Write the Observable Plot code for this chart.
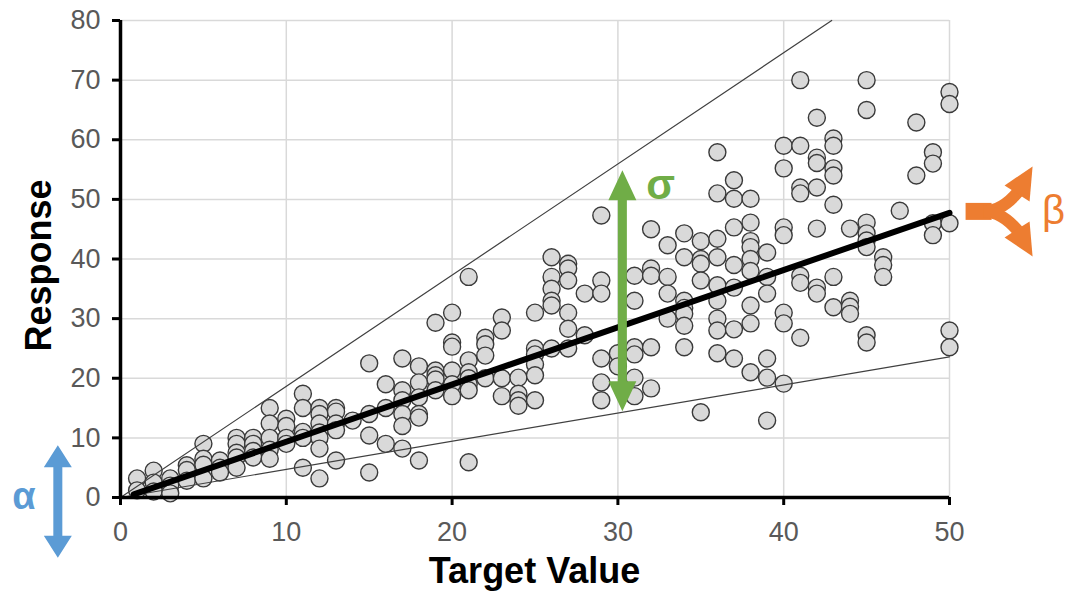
<!DOCTYPE html>
<html>
<head>
<meta charset="utf-8">
<script src="https://cdn.jsdelivr.net/npm/d3@7"></script>
<script src="https://cdn.jsdelivr.net/npm/@observablehq/plot@0.6"></script>
<style>
  html, body { margin: 0; padding: 0; background: #ffffff; }
  #chart svg { display: block; }
</style>
</head>
<body>
<div id="chart"></div>
<script>
// ---- Data ----
const target = [
  1,1,
  2,2,2,
  3,3,3,
  4,4,4,
  5,5,5,5,
  6,6,6,
  7,7,7,7,7,
  8,8,8,8,
  9,9,9,9,9,
  10,10,10,10,
  11,11,11,11,11,
  12,12,12,12,12,12,12,
  13,13,13,13,13,
  14,
  15,15,15,15,
  16,16,16,
  17,17,17,17,17,17,
  18,18,18,18,18,18,
  19,19,19,19,19,
  20,20,20,20,20,20,
  21,21,21,21,21,21,21,
  22,22,22,22,
  23,23,23,23,
  24,24,24,24,
  25,25,25,25,25,25,
  26,26,26,26,26,26,
  27,27,27,27,27,27,
  28,28,
  29,29,29,29,29,29,
  30,30,
  31,31,31,31,31,31,
  32,32,32,32,32,
  33,33,33,33,
  34,34,34,34,34,34,34,
  35,35,35,35,35,
  36,36,36,36,36,36,36,36,36,
  37,37,37,37,37,37,37,
  38,38,38,38,38,38,38,38,38,
  39,39,39,39,39,39,
  40,40,40,40,40,40,40,
  41,41,41,41,41,41,41,
  42,42,42,42,42,42,42,
  43,43,43,43,43,43,43,
  44,44,44,44,
  45,45,45,45,45,45,45,45,
  46,46,46,
  47,
  48,48,
  49,49,49,49,
  50,50,50,50,50
];
const response = [
  3.2,1.2,
  4.5,2.5,1.0,
  3.2,2.0,0.7,
  5.4,4.6,2.8,
  9.0,6.5,5.5,3.2,
  6.2,5.0,4.2,
  10.0,9.0,7.5,6.7,5.0,
  10.0,9.0,7.8,6.7,
  15.0,12.4,10.0,8.0,6.5,
  13.2,12.0,10.0,9.0,
  17.4,15.0,11.0,10.0,5.0,
  15.0,14.0,12.4,10.9,10.0,8.2,3.2,
  15.0,14.4,12.4,11.3,6.2,
  12.9,
  22.5,14.0,10.4,4.2,
  19.0,15.0,9.0,
  23.3,18.0,16.3,14.0,12.0,8.2,
  22.0,19.3,16.8,14.0,13.4,6.2,
  29.3,21.3,20.5,19.8,18.0,
  31.0,26.0,25.3,21.3,19.0,17.0,
  37.0,23.0,21.0,20.0,19.0,18.0,5.9,
  26.8,25.7,23.8,20.0,
  30.2,28.0,20.0,17.0,
  20.1,17.4,16.3,15.4,
  31.0,25.0,24.0,22.3,20.5,16.3,
  40.3,37.0,35.0,33.0,32.2,25.0,
  39.2,38.4,36.4,31.0,28.3,25.0,
  34.2,27.2,
  47.3,36.4,34.2,23.3,19.3,16.3,
  24.2,22.0,
  37.2,33.0,25.2,24.0,20.1,17.0,
  45.0,38.4,37.2,25.2,18.3,
  42.3,37.0,34.2,30.0,
  44.3,40.3,33.0,31.8,30.8,28.8,25.2,
  43.0,40.0,39.2,36.4,14.3,
  57.9,51.0,43.4,40.3,35.6,33.0,30.0,28.0,24.2,
  53.2,50.1,45.3,39.0,35.2,28.2,23.3,
  50.1,46.1,43.0,42.0,40.0,38.0,32.2,29.2,21.0,
  41.1,37.0,34.2,23.3,20.1,12.9,
  59.0,55.2,45.3,44.0,31.0,29.2,19.1,
  70.0,59.0,52.0,51.0,37.2,36.0,26.8,
  63.7,57.0,56.1,52.0,45.1,35.2,34.2,
  60.2,59.0,55.2,54.0,49.1,37.0,31.9,
  45.1,33.0,32.0,30.8,
  70.0,65.0,46.1,44.3,43.1,42.0,27.2,26.0,
  40.3,39.0,37.0,
  48.1,
  62.9,54.0,
  57.9,56.0,46.0,44.0,
  68.0,66.0,46.0,28.0,25.2
];

const xTicks = [0, 10, 20, 30, 40, 50];
const yTicks = [0, 10, 20, 30, 40, 50, 60, 70, 80];

// fitted trend line (slope, intercept) and the two envelope lines through the origin
const fitSlope = 0.96;
const fitIntercept = -0.25;
const fitRange = [0.8, 50];
const envelopeSlopes = [1.865, 0.472];

// annotation anchors (data units)
const alphaArrow = { x: -3.75, y1: 8.7, y2: -10.2, label: "α" };
const sigmaArrow = { x: 30.3, y1: 54.8, y2: 14.4, label: "σ", labelX: 32.6, labelY: 52.3 };
const betaArrow  = { x: 51.0, y: 47.9, label: "β" };

// ---- Build tables ----
if (target.length !== response.length) console.error("length mismatch", target.length, response.length);
const points = target.map((t, i) => ({ target: t, response: response[i] }));
const fitLine = fitRange.map(x => ({ x, y: fitIntercept + fitSlope * x }));
const envelopes = envelopeSlopes.flatMap((s, k) =>
  [0, Math.min(50, 80 / s)].map(x => ({ k, x, y: s * x })));

const plot = Plot.plot({
  width: 1065,
  height: 591,
  marginLeft: 120,
  marginRight: 116,
  marginTop: 20,
  marginBottom: 94,
  style: { fontFamily: "'Liberation Sans', Arial, sans-serif", fontSize: "27px", background: "#ffffff" },
  x: { domain: [0, 50], label: null },
  y: { domain: [0, 80], label: null },
  marks: [
    Plot.gridX(xTicks.slice(1), { stroke: "#d9d9d9", strokeOpacity: 1, strokeWidth: 1.5 }),
    Plot.gridY(yTicks.slice(1), { stroke: "#d9d9d9", strokeOpacity: 1, strokeWidth: 1.5 }),
    Plot.axisX(xTicks, { tickSize: 8, tickPadding: 16, label: null, fontSize: 27 }),
    Plot.axisY(yTicks, { tickSize: 8, tickPadding: 12, label: null, fontSize: 27 }),
    Plot.dot(points, { x: "target", y: "response", r: 8.5, fill: "#d9d9d9", stroke: "#3a3a3a", strokeWidth: 1.4 }),
    Plot.line(envelopes, { x: "x", y: "y", z: "k", stroke: "#404040", strokeWidth: 1.2 }),
    Plot.line(fitLine, { x: "x", y: "y", stroke: "#000000", strokeWidth: 6 }),
    Plot.ruleY([0], { stroke: "#000000", strokeWidth: 3.5 }),
    Plot.ruleX([0], { stroke: "#000000", strokeWidth: 3.5 })
  ]
});

document.getElementById("chart").appendChild(plot);

// ---- Style axes like the reference ----
const svg = d3.select(plot);
svg.selectAll('g[aria-label="x-axis tick"] path, g[aria-label="y-axis tick"] path')
  .attr("stroke", "#000000").attr("stroke-width", 3);
svg.selectAll('g[aria-label="x-axis tick"], g[aria-label="y-axis tick"]')
  .attr("stroke", "#000000").attr("stroke-width", 3);
svg.selectAll('g[aria-label="x-axis tick label"], g[aria-label="y-axis tick label"]')
  .attr("fill", "#595959");
svg.selectAll('g[aria-label="x-axis tick label"] text, g[aria-label="y-axis tick label"] text')
  .attr("fill", "#595959");

const sx = v => plot.scale("x").apply(v);
const sy = v => plot.scale("y").apply(v);
const fr = plot.scale("x").range, fy = plot.scale("y").range;

// ---- Axis titles ----
const titleFont = "'Liberation Sans', Arial, sans-serif";
svg.append("text")
  .attr("x", (fr[0] + fr[1]) / 2).attr("y", 583)
  .attr("text-anchor", "middle")
  .attr("font-family", titleFont).attr("font-weight", "bold").attr("font-size", 36)
  .attr("fill", "#000000").text("Target Value");
svg.append("text")
  .attr("transform", `translate(51,${(fy[0] + fy[1]) / 2 + 7}) rotate(-90)`)
  .attr("text-anchor", "middle")
  .attr("font-family", titleFont).attr("font-weight", "bold").attr("font-size", 36)
  .attr("fill", "#000000").text("Response");

// ---- Annotations ----
function doubleArrow(g, cx, yTop, yBot, color, shaftW, headW, headL) {
  const pts = [
    [cx, yTop], [cx + headW / 2, yTop + headL], [cx + shaftW / 2, yTop + headL],
    [cx + shaftW / 2, yBot - headL], [cx + headW / 2, yBot - headL], [cx, yBot],
    [cx - headW / 2, yBot - headL], [cx - shaftW / 2, yBot - headL],
    [cx - shaftW / 2, yTop + headL], [cx - headW / 2, yTop + headL]
  ];
  g.append("path").attr("d", "M" + pts.map(p => p.join(",")).join("L") + "Z").attr("fill", color);
}
const ann = svg.append("g");

// alpha (blue)
const blue = "#5B9BD5";
doubleArrow(ann, sx(alphaArrow.x), sy(alphaArrow.y1), sy(alphaArrow.y2), blue, 9, 28, 22);
ann.append("text")
  .attr("x", sx(alphaArrow.x) - 34).attr("y", sy(0)).attr("dy", "0.32em")
  .attr("text-anchor", "middle").attr("font-family", titleFont)
  .attr("font-weight", "bold").attr("font-size", 38).attr("fill", blue).text(alphaArrow.label);

// sigma (green)
const green = "#70AD47";
doubleArrow(ann, sx(sigmaArrow.x), sy(sigmaArrow.y1), sy(sigmaArrow.y2), green, 9, 28, 30);
ann.append("text")
  .attr("x", sx(sigmaArrow.labelX)).attr("y", sy(sigmaArrow.labelY)).attr("dy", "0.32em")
  .attr("text-anchor", "middle").attr("font-family", titleFont)
  .attr("font-weight", "bold").attr("font-size", 42).attr("fill", green).text(sigmaArrow.label);

// beta (orange fork)
const orange = "#ED7D31";
const ax = sx(betaArrow.x), ay = sy(betaArrow.y);
const bg = ann.append("g").attr("transform", `translate(${ax},${ay})`);
bg.append("path").attr("d", "M0,0 L26,0").attr("stroke", orange).attr("stroke-width", 17).attr("fill", "none");
[-1, 1].forEach(sgn => {
  bg.append("path")
    .attr("d", `M18,0 Q36,0 52,${sgn * 19}`)
    .attr("stroke", orange).attr("stroke-width", 12).attr("fill", "none");
  bg.append("path")
    .attr("d", `M67,${sgn * 45} L39,${sgn * 26} L64,${sgn * 10} Z`)
    .attr("fill", orange);
});
ann.append("text")
  .attr("x", ax + 88).attr("y", ay).attr("dy", "0.32em")
  .attr("text-anchor", "middle").attr("font-family", titleFont)
  .attr("font-size", 40).attr("fill", orange).text(betaArrow.label);
</script>
</body>
</html>
